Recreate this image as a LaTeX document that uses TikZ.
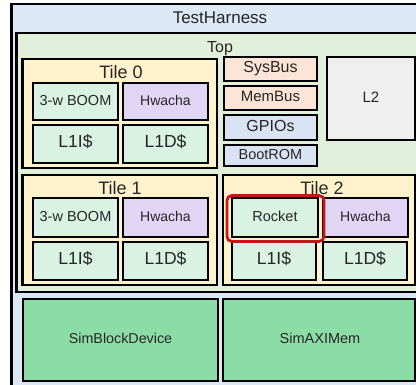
\documentclass[tikz,border=0pt]{standalone}
\usepackage{fontspec}
\setmainfont{Liberation Sans}
\definecolor{thblue}{HTML}{DCE8F6}
\definecolor{topgreen}{HTML}{E2EFDA}
\definecolor{tileyellow}{HTML}{FFF2CC}
\definecolor{mint}{HTML}{D9F2E4}
\definecolor{lav}{HTML}{E1D5F5}
\definecolor{peach}{HTML}{FCE4D6}
\definecolor{gpioblue}{HTML}{DAE3F3}
\definecolor{lgray}{HTML}{EFEFEF}
\definecolor{simgreen}{HTML}{8CDCA8}
\definecolor{hilite}{HTML}{C41818}
\tikzset{
  blk/.style={draw=black, line width=2.8pt},
  lbl/.style={inner sep=0pt, text height=0.716em, text depth=0pt, text=black!85},
}
\begin{document}
\begin{tikzpicture}[x=1pt,y=-1pt]
\useasboundingbox (0,0) rectangle (416,385);
\clip (0,0) rectangle (416,385);
\fill[white] (0,0) rectangle (416,385);
% TestHarness
\draw[blk, fill=thblue] (11.5,4) rectangle (440,400);
\node[lbl, font=\fontsize{17}{17}\selectfont] (th) at (220,20) {TestHarness};
% Top
\draw[blk, fill=topgreen] (16.5,33) rectangle (440,292);
\node[lbl, font=\fontsize{16}{16}\selectfont] (top) at (220,49) {Top};
% Tiles
\draw[blk, fill=tileyellow] (22.5,59) rectangle (217,168);
\node[lbl, font=\fontsize{18}{18}\selectfont] (t0) at (121,75) {Tile 0};
\draw[blk, fill=tileyellow] (22.5,175) rectangle (217,285);
\node[lbl, font=\fontsize{18}{18}\selectfont] (t1) at (120,190.5) {Tile 1};
\draw[blk, fill=tileyellow] (223,175) rectangle (415.5,285);
\node[lbl, font=\fontsize{18}{18}\selectfont] (t2) at (322,190.5) {Tile 2};
% Tile 0 contents
\draw[blk, fill=mint] (33,83) rectangle (118,120);
\node[lbl, font=\fontsize{14.5}{14.5}\selectfont] (boom0) at (75.5,101.5) {3-w BOOM};
\draw[blk, fill=lav] (123,83) rectangle (208,120);
\node[lbl, font=\fontsize{14}{14}\selectfont] (hw0) at (165.5,101.5) {Hwacha};
\draw[blk, fill=mint] (33,125) rectangle (118,163);
\node[lbl, font=\fontsize{17.5}{17.5}\selectfont] (li0) at (75.5,144) {L1I\$};
\draw[blk, fill=mint] (123,125) rectangle (208,163);
\node[lbl, font=\fontsize{17.5}{17.5}\selectfont] (ld0) at (165.5,144) {L1D\$};
% Tile 1 contents
\draw[blk, fill=mint] (33,198) rectangle (118,237);
\node[lbl, font=\fontsize{14.5}{14.5}\selectfont] (boom1) at (75.5,217.5) {3-w BOOM};
\draw[blk, fill=lav] (123,198) rectangle (208,237);
\node[lbl, font=\fontsize{14}{14}\selectfont] (hw1) at (165.5,217.5) {Hwacha};
\draw[blk, fill=mint] (33,242) rectangle (118,280);
\node[lbl, font=\fontsize{17.5}{17.5}\selectfont] (li1) at (75.5,261) {L1I\$};
\draw[blk, fill=mint] (123,242) rectangle (208,280);
\node[lbl, font=\fontsize{17.5}{17.5}\selectfont] (ld1) at (165.5,261) {L1D\$};
% Tile 2 contents
\draw[blk, fill=mint] (232,198) rectangle (318,237);
\node[lbl, font=\fontsize{14.5}{14.5}\selectfont] (rocket) at (275,217.5) {Rocket};
\draw[blk, fill=lav] (323,198) rectangle (408,237);
\node[lbl, font=\fontsize{14}{14}\selectfont] (hw2) at (365.5,217.5) {Hwacha};
\draw[blk, fill=mint] (232,242) rectangle (316,280);
\node[lbl, font=\fontsize{17.5}{17.5}\selectfont] (li2) at (274,261) {L1I\$};
\draw[blk, fill=mint] (323,242) rectangle (407,280);
\node[lbl, font=\fontsize{17.5}{17.5}\selectfont] (ld2) at (365,261) {L1D\$};
\draw[draw=hilite, line width=2.8pt, rounded corners=5pt] (227,195.5) rectangle (324,241.5);
% Buses
\draw[blk, fill=peach] (224,57) rectangle (317,81);
\node[lbl, font=\fontsize{16}{16}\selectfont] (sysbus) at (270.5,69) {SysBus};
\draw[blk, fill=peach] (224,86) rectangle (317,110);
\node[lbl, font=\fontsize{15}{15}\selectfont] (membus) at (270.5,98) {MemBus};
\draw[blk, fill=gpioblue] (224,115) rectangle (317,140);
\node[lbl, font=\fontsize{16}{16}\selectfont] (gpio) at (270.5,127.5) {GPIOs};
\draw[blk, fill=gpioblue] (224,145) rectangle (317,166);
\node[lbl, font=\fontsize{14.5}{14.5}\selectfont] (bootrom) at (270.5,155.5) {BootROM};
% L2
\draw[blk, fill=lgray] (327,57) rectangle (415.5,140);
\node[lbl, font=\fontsize{15}{15}\selectfont] (l2) at (371,98.5) {L2};
% Sim devices
\draw[blk, fill=simgreen] (23,299) rectangle (218,381);
\node[lbl, font=\fontsize{14.3}{14.3}\selectfont] (sbd) at (120.5,340) {SimBlockDevice};
\draw[blk, fill=simgreen] (223,299) rectangle (415.5,381);
\node[lbl, font=\fontsize{14.5}{14.5}\selectfont] (saxi) at (320,340) {SimAXIMem};
\end{tikzpicture}
\end{document}
